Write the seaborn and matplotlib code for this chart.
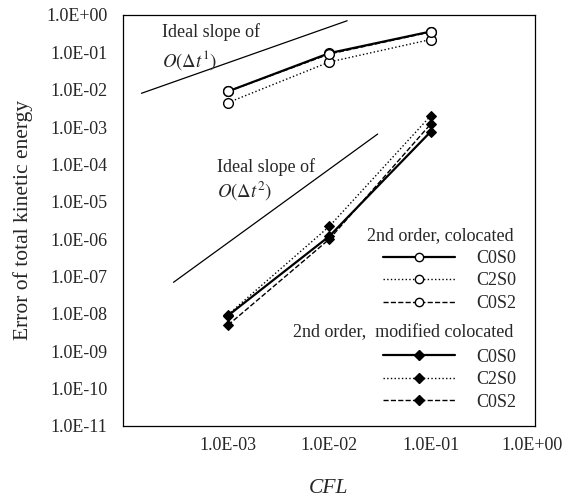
import numpy as np
import pandas as pd
import matplotlib
matplotlib.use("Agg")
import matplotlib.pyplot as plt
import seaborn as sns
from matplotlib.lines import Line2D
from matplotlib.ticker import FixedLocator, FuncFormatter, LogLocator, NullFormatter

# ---- data ----
cfl = [1e-3, 1e-2, 1e-1]
col_c0s0 = [9.0e-3, 9.5e-2, 3.6e-1]
col_c2s0 = [4.5e-3, 5.5e-2, 2.2e-1]
col_c0s2 = [9.0e-3, 9.0e-2, 3.5e-1]
mod_c0s0 = [9.0e-9, 1.2e-6, 7.5e-4]
mod_c2s0 = [9.5e-9, 2.2e-6, 2.0e-3]
mod_c0s2 = [5.0e-9, 1.0e-6, 1.2e-3]

ideal1_x = [1.4e-4, 1.5e-2]
ideal1_y = [8.0e-3, 0.7]
ideal2_x = [2.9e-4, 3.0e-2]
ideal2_y = [7.0e-8, 6.5e-4]

x_ticks = [1e-3, 1e-2, 1e-1, 1e0]
y_ticks = [10.0 ** k for k in range(-11, 1)]
series_labels = ["C0S0", "C2S0", "C0S2"]

sns.set_style("white")
plt.rcParams["font.family"] = ["Liberation Serif", "DejaVu Serif"]
plt.rcParams["mathtext.fontset"] = "stix"

fig = plt.figure(figsize=(5.76, 4.98), dpi=100)
ax = fig.add_axes([0.2135, 0.1446, 0.7153, 0.8254])

styles = ["-", ":", "--"]
widths = [1.6, 1.0, 1.0]

for ys, ls, lw in zip([col_c0s0, col_c2s0, col_c0s2], styles, widths):
    df = pd.DataFrame({"x": cfl, "y": ys})
    sns.lineplot(data=df, x="x", y="y", ax=ax, color="black", linestyle=ls, lw=lw,
                 marker="o", markersize=7, markerfacecolor="white",
                 markeredgecolor="black", markeredgewidth=1.0)
for ys, ls, lw in zip([mod_c0s0, mod_c2s0, mod_c0s2], styles, widths):
    df = pd.DataFrame({"x": cfl, "y": ys})
    sns.lineplot(data=df, x="x", y="y", ax=ax, color="black", linestyle=ls, lw=lw,
                 marker="D", markersize=5.5, markerfacecolor="black",
                 markeredgecolor="black")

sns.lineplot(x=ideal1_x, y=ideal1_y, ax=ax, color="black", lw=0.9)
sns.lineplot(x=ideal2_x, y=ideal2_y, ax=ax, color="black", lw=0.9)

ax.set_xscale("log")
ax.set_yscale("log")
ax.set_xlim(9.2e-5, 1.07)
ax.set_ylim(1e-11, 1.0)

ax.xaxis.set_major_locator(FixedLocator(x_ticks))
ax.yaxis.set_major_locator(FixedLocator(y_ticks))
fmt = FuncFormatter(lambda v, p: f"{v:.1E}")
ax.xaxis.set_major_formatter(fmt)
ax.yaxis.set_major_formatter(fmt)
ax.xaxis.set_minor_locator(LogLocator(base=10, subs=np.arange(2, 10), numticks=20))
ax.yaxis.set_minor_locator(LogLocator(base=10, subs=np.arange(2, 10), numticks=20))
ax.xaxis.set_minor_formatter(NullFormatter())
ax.yaxis.set_minor_formatter(NullFormatter())
ax.tick_params(axis="both", which="major", direction="in", length=5, width=0.9,
               labelsize=13, top=False, right=False)
ax.tick_params(axis="both", which="minor", direction="in", length=2.5, width=0.6,
               top=False, right=False)
ax.tick_params(axis="y", which="major", pad=11)
ax.tick_params(axis="x", which="major", pad=8)

for s in ax.spines.values():
    s.set_color("black")
    s.set_linewidth(0.9)

ax.set_xlabel("CFL", fontsize=15.5, style="italic", labelpad=18)
ax.set_ylabel("Error of total kinetic energy", fontsize=15.5, labelpad=10)

ax.text(0.0947, 0.958, "Ideal slope of", transform=ax.transAxes, fontsize=13,
        va="center", ha="left")
ax.text(0.0947, 0.890, r"$O(\Delta t^1)$", transform=ax.transAxes, fontsize=13.5,
        va="center", ha="left")
ax.text(0.228, 0.629, "Ideal slope of", transform=ax.transAxes, fontsize=13,
        va="center", ha="left")
ax.text(0.228, 0.571, r"$O(\Delta t^2)$", transform=ax.transAxes, fontsize=13.5,
        va="center", ha="left")

# legend titles
ax.text(0.948, 0.463, "2nd order, colocated", transform=ax.transAxes, fontsize=13,
        va="center", ha="right")
ax.text(0.948, 0.226, "2nd order,  modified colocated", transform=ax.transAxes,
        fontsize=13, va="center", ha="right")

h_col = [Line2D([], [], color="black", linestyle=ls, lw=lw, marker="o", markersize=6,
                markerfacecolor="white", markeredgecolor="black")
         for ls, lw in zip(styles, widths)]
h_mod = [Line2D([], [], color="black", linestyle=ls, lw=lw, marker="D", markersize=5,
                markerfacecolor="black", markeredgecolor="black")
         for ls, lw in zip(styles, widths)]

leg1 = ax.legend(h_col, series_labels, loc="upper right", bbox_to_anchor=(0.955, 0.428),
                 frameon=False, fontsize=13, handlelength=4.0, handletextpad=1.2,
                 labelspacing=0.3, borderpad=0, borderaxespad=0)
ax.add_artist(leg1)
leg2 = ax.legend(h_mod, series_labels, loc="upper right", bbox_to_anchor=(0.955, 0.188),
                 frameon=False, fontsize=13, handlelength=4.0, handletextpad=1.2,
                 labelspacing=0.3, borderpad=0, borderaxespad=0)

fig.savefig("out.png", dpi=100)
